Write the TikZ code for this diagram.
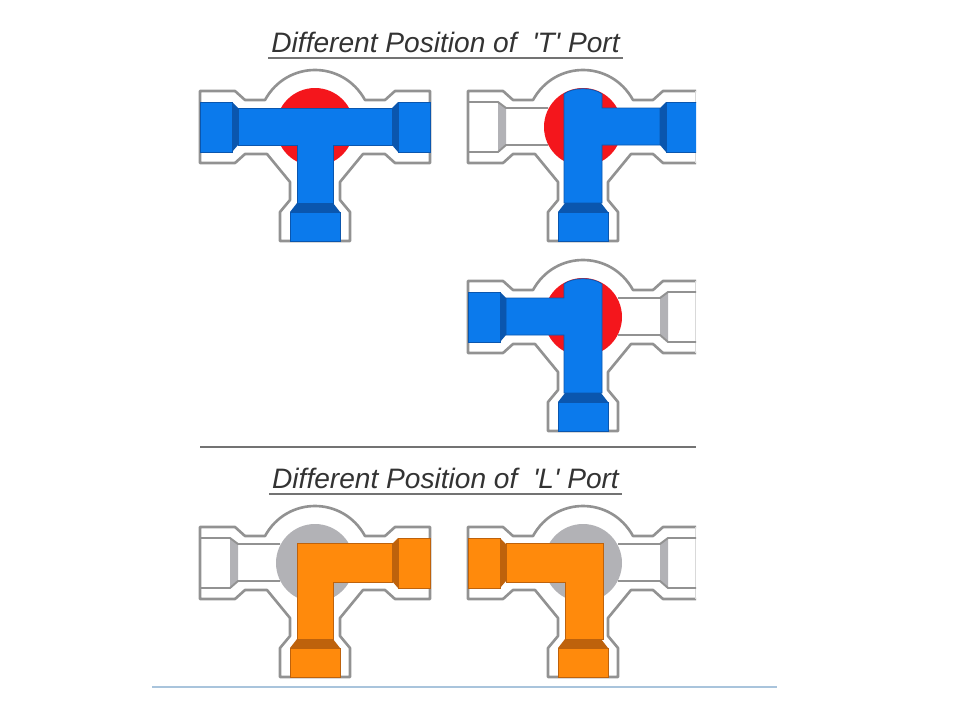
\documentclass[tikz,border=0pt]{standalone}
\usepackage{fontspec}
\setmainfont{Liberation Sans}
\usepackage{tikz}
\usetikzlibrary{positioning}
\definecolor{flowblue}{HTML}{0B7AEC}
\definecolor{flowbluedark}{HTML}{0A56AE}
\definecolor{floworange}{HTML}{FF8A0C}
\definecolor{floworangedark}{HTML}{BE620C}
\definecolor{ballred}{HTML}{F4161C}
\definecolor{ballgrey}{HTML}{B2B2B6}
\definecolor{bodygrey}{HTML}{929292}
\definecolor{baseblue}{HTML}{A9C4DC}
\tikzset{
    bodyline/.style={draw=bodygrey, line width=1.5pt, line join=round},
    boreline/.style={draw=bodygrey, line width=1.1pt},
    endline/.style={draw=black!15, line width=1pt},
    chamfergrey/.style={fill=ballgrey},
    titletext/.style={font=\itshape\fontsize{16}{18}\selectfont, text=black!80, inner sep=1.5pt},
    rule/.style={draw=black!55, line width=1.1pt},
}
% body outline, same for every valve
\newcommand{\valvebody}{
    \draw[bodyline] (-115,-36) -- (-80,-36) -- (-70,-27) -- (-50,-27)
        .. controls (-28,-67) and (28,-67) .. (50,-27) -- (70,-27) -- (80,-36)
        -- (115,-36) -- (115,36) -- (80,36) -- (70,27) -- (48,27) -- (25,55)
        -- (25,73) -- (35,85) -- (35,114) -- (-35,114) -- (-35,85) -- (-25,73)
        -- (-25,55) -- (-48,27) -- (-70,27) -- (-80,36) -- (-115,36) -- cycle;
}
% left port, nothing flowing
\newcommand{\emptyport}{
    \fill[chamfergrey] (-85,-25) -- (-77,-19) -- (-77,18) -- (-85,25) -- cycle;
    \draw[boreline] (-115,-25) -- (-85,-25) -- (-77,-19) -- (-35,-19);
    \draw[boreline] (-115,25) -- (-85,25) -- (-77,18) -- (-35,18);
}
% left port, #1 = fill, #2 = dark fill
\newcommand{\fullport}[2]{
    \fill[#2] (-83,-25) -- (-77,-19) -- (-77,18) -- (-83,25) -- cycle;
    \filldraw[fill=#1, draw=#2] (-115,-25) -- (-83,-25) -- (-83,25) -- (-115,25) -- cycle;
}
% bottom port
\newcommand{\stemport}[2]{
    \fill[#2] (-18,76) -- (18,76) -- (25,85) -- (-25,85) -- cycle;
    \filldraw[fill=#1, draw=#2] (-25,85) -- (25,85) -- (25,114) -- (-25,114) -- cycle;
}
\begin{document}
\begin{tikzpicture}[x=0.02cm, y=-0.02cm]
    \useasboundingbox (0,0) rectangle (960,720);

    % ---------------- TITLES AND RULES ---------------- %
    \node[titletext] (titleT) at (445.5,42) {Different Position of~~\textquotesingle T\textquotesingle{} Port};
    \node[titletext] (titleL) at (445.5,478) {Different Position of~~\textquotesingle L\textquotesingle{} Port};
    \draw[rule] ([yshift=-1.5pt]titleT.south west) -- ([yshift=-1.5pt]titleT.south east);
    \draw[rule] ([yshift=-1.5pt]titleL.south west) -- ([yshift=-1.5pt]titleL.south east);
    \coordinate (midruleL) at (200,447);
    \coordinate (midruleR) at (696,447);
    \coordinate (baseruleL) at (152,687);
    \coordinate (baseruleR) at (777,687);
    \draw[rule] (midruleL) -- (midruleR);
    \draw[draw=baseblue, line width=1.3pt] (baseruleL) -- (baseruleR);

    % ---------------- T PORT, STRAIGHT THROUGH ---------------- %
    \begin{scope}[shift={(315,127)}]
        \valvebody
        \fill[ballred] (0,0) circle[radius=39];
        \filldraw[fill=flowblue, draw=flowbluedark] (-77,-19) -- (77,-19) -- (77,18) -- (18,18)
            -- (18,76) -- (-18,76) -- (-18,18) -- (-77,18) -- cycle;
        \fullport{flowblue}{flowbluedark}
        \begin{scope}[xscale=-1]
            \fullport{flowblue}{flowbluedark}
        \end{scope}
        \stemport{flowblue}{flowbluedark}
    \end{scope}

    % ---------------- T PORT, TURNED RIGHT ---------------- %
    \begin{scope}[shift={(583,127)}]
        \clip (-120,-70) rectangle (113,120);
        \valvebody
        \draw[endline] (112.5,-36) -- (112.5,36);
        \emptyport
        \fill[ballred] (0,0) circle[radius=39];
        \filldraw[fill=flowblue, draw=flowbluedark] (-19,-33) .. controls (-10,-40) and (10,-40) .. (19,-33)
            -- (19,-19) -- (77,-19) -- (77,18) -- (19,18) -- (19,76) -- (-19,76) -- cycle;
        \begin{scope}[xscale=-1]
            \fullport{flowblue}{flowbluedark}
        \end{scope}
        \stemport{flowblue}{flowbluedark}
    \end{scope}

    % ---------------- T PORT, TURNED LEFT ---------------- %
    \begin{scope}[shift={(583,317)}]
        \clip (-120,-70) rectangle (113,120);
        \valvebody
        \draw[endline] (112.5,-36) -- (112.5,36);
        \begin{scope}[xscale=-1]
            \emptyport
        \end{scope}
        \fill[ballred] (0,0) circle[radius=39];
        \filldraw[fill=flowblue, draw=flowbluedark] (-19,-33) .. controls (-10,-40) and (10,-40) .. (19,-33)
            -- (19,76) -- (-19,76) -- (-19,18) -- (-77,18) -- (-77,-19) -- (-19,-19) -- cycle;
        \fullport{flowblue}{flowbluedark}
        \stemport{flowblue}{flowbluedark}
    \end{scope}

    % ---------------- L PORT, TO THE RIGHT ---------------- %
    \begin{scope}[shift={(315,563)}]
        \valvebody
        \emptyport
        \fill[ballgrey] (0,0) circle[radius=39];
        \filldraw[fill=floworange, draw=floworangedark] (-18,-20) -- (77,-20) -- (77,19) -- (18,19)
            -- (18,76) -- (-18,76) -- cycle;
        \begin{scope}[xscale=-1]
            \fullport{floworange}{floworangedark}
        \end{scope}
        \stemport{floworange}{floworangedark}
    \end{scope}

    % ---------------- L PORT, TO THE LEFT ---------------- %
    \begin{scope}[shift={(583,563)}]
        \clip (-120,-70) rectangle (113,120);
        \valvebody
        \draw[endline] (112.5,-36) -- (112.5,36);
        \begin{scope}[xscale=-1]
            \emptyport
        \end{scope}
        \fill[ballgrey] (0,0) circle[radius=39];
        \filldraw[fill=floworange, draw=floworangedark] (20,-20) -- (20,76) -- (-18,76) -- (-18,19)
            -- (-77,19) -- (-77,-20) -- cycle;
        \fullport{floworange}{floworangedark}
        \stemport{floworange}{floworangedark}
    \end{scope}
\end{tikzpicture}
\end{document}
